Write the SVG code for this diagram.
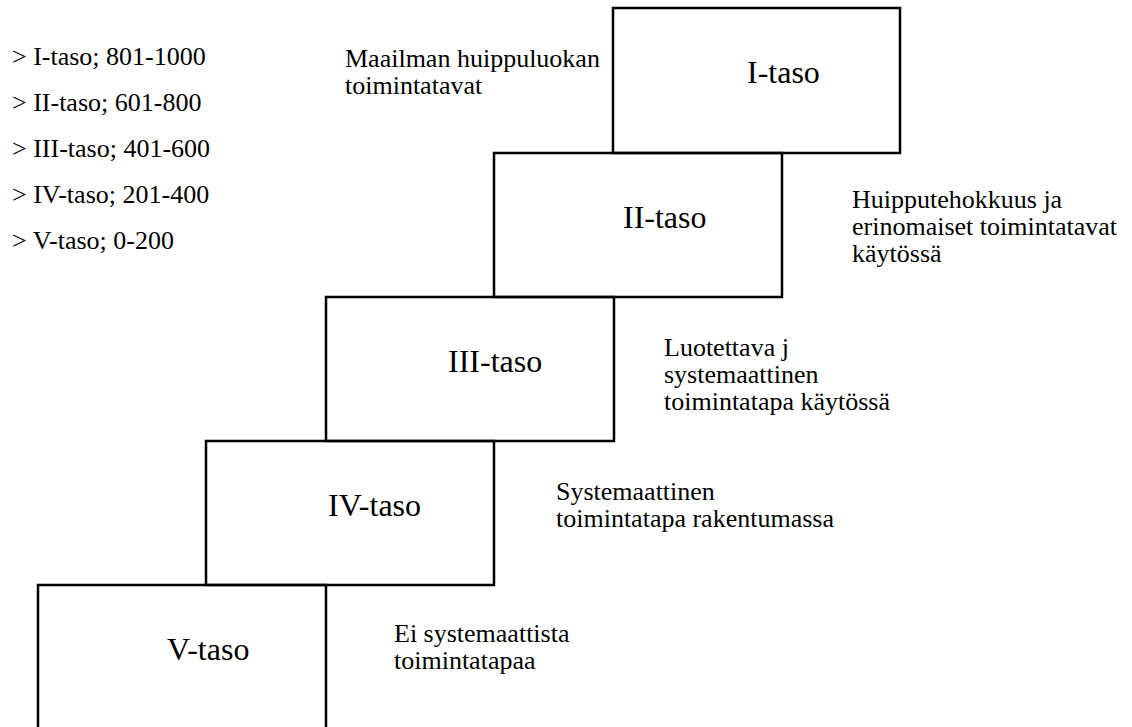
<svg xmlns="http://www.w3.org/2000/svg" width="1132" height="727" viewBox="0 0 1132 727">
  <style>
    .box { fill: none; stroke: #000; stroke-width: 2.5; }
    .lvl { font-family: "Liberation Serif", "Times New Roman", serif; font-size: 32px; fill: #000; }
    .txt text { font-family: "Liberation Serif", "Times New Roman", serif; font-size: 26px; fill: #000; }
  </style>
  <rect width="1132" height="727" fill="#fff"/>

  <!-- score ranges -->
  <g id="legend" class="txt">
    <text x="12" y="65">&gt; I-taso; 801-1000</text>
    <text x="12" y="111">&gt; II-taso; 601-800</text>
    <text x="12" y="157">&gt; III-taso; 401-600</text>
    <text x="12" y="203">&gt; IV-taso; 201-400</text>
    <text x="12" y="249">&gt; V-taso; 0-200</text>
  </g>

  <!-- staircase of levels -->
  <g id="level-1">
    <rect class="box" x="613" y="8" width="287" height="145"/>
    <text class="lvl" x="747" y="83">I-taso</text>
  </g>
  <g id="level-2">
    <rect class="box" x="494" y="153" width="288" height="144"/>
    <text class="lvl" x="623" y="228">II-taso</text>
  </g>
  <g id="level-3">
    <rect class="box" x="326" y="297" width="288" height="144"/>
    <text class="lvl" x="448" y="372">III-taso</text>
  </g>
  <g id="level-4">
    <rect class="box" x="206" y="441" width="288" height="144"/>
    <text class="lvl" x="328" y="516">IV-taso</text>
  </g>
  <g id="level-5">
    <rect class="box" x="38" y="585" width="288" height="150"/>
    <text class="lvl" x="167" y="660">V-taso</text>
  </g>

  <!-- level descriptions -->
  <g id="desc-1" class="txt">
    <text x="345" y="67">Maailman huippuluokan</text>
    <text x="345" y="94">toimintatavat</text>
  </g>
  <g id="desc-2" class="txt">
    <text x="852" y="208">Huipputehokkuus ja</text>
    <text x="852" y="235">erinomaiset toimintatavat</text>
    <text x="852" y="262">käytössä</text>
  </g>
  <g id="desc-3" class="txt">
    <text x="664" y="356">Luotettava j</text>
    <text x="664" y="383">systemaattinen</text>
    <text x="664" y="410">toimintatapa käytössä</text>
  </g>
  <g id="desc-4" class="txt">
    <text x="556" y="500">Systemaattinen</text>
    <text x="556" y="527">toimintatapa rakentumassa</text>
  </g>
  <g id="desc-5" class="txt">
    <text x="394" y="642">Ei systemaattista</text>
    <text x="394" y="669">toimintatapaa</text>
  </g>

  <g id="connectors"/>
</svg>
